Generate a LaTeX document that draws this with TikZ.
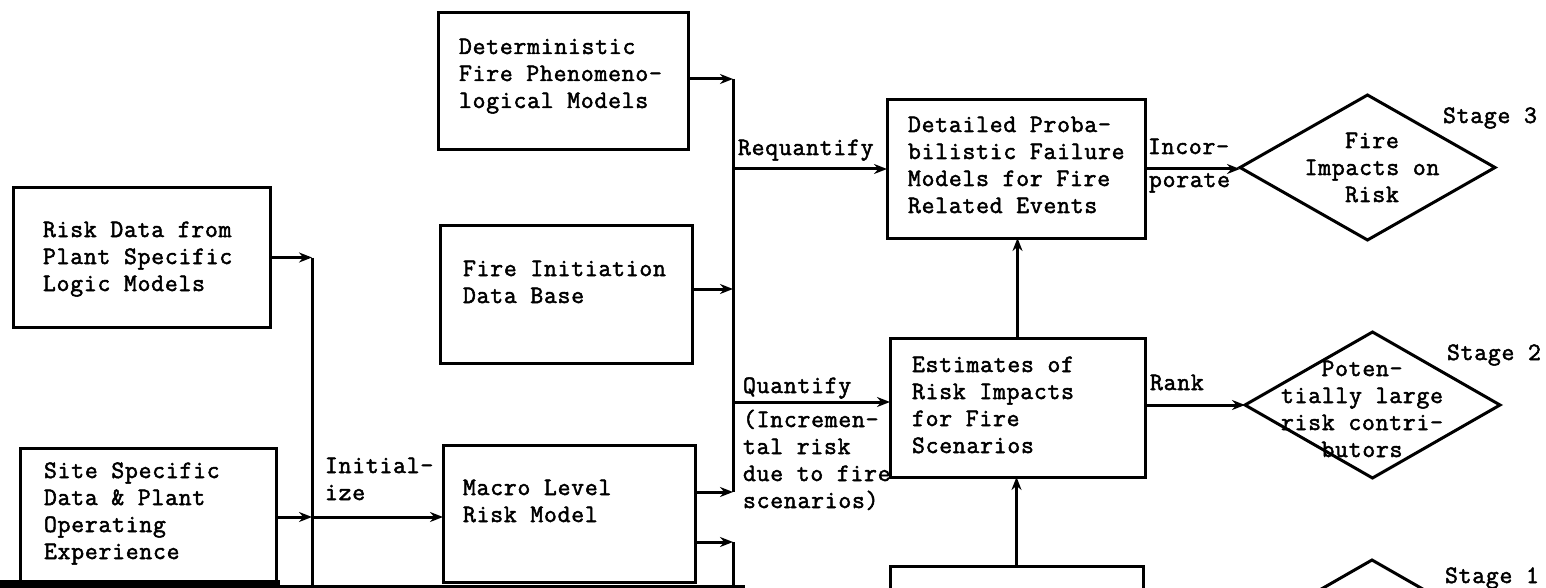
\documentclass[tikz,border=0pt]{standalone}
\usepackage{fontspec}
\setmonofont{Latin Modern Mono}[FakeBold=2,LetterSpace=3]
\usetikzlibrary{arrows.meta,shapes.geometric}
\newcommand\tlines[1]{\vtop{\halign{##\hfil\cr#1\crcr}}}
\newcommand\clines[1]{\vtop{\halign{\hfil##\hfil\cr#1\crcr}}}
\tikzset{
  ln/.style={line width=3pt, black},
  arr/.style={ln, -{Stealth[length=13pt,width=10pt]}},
  boxnode/.style={draw, line width=3pt, inner sep=0pt, outer sep=0pt, rectangle},
  dia/.style={draw, line width=3pt, diamond, inner sep=0pt, outer sep=0pt},
  txt/.style={inner sep=0pt, outer sep=0pt, anchor=base west, font=\ttfamily\fontsize{25}{27}\selectfont},
  ctxt/.style={txt, anchor=base}
}
\begin{document}
\begin{tikzpicture}[x=1pt,y=-1pt]
\useasboundingbox (0,0) rectangle (1546,588);
\clip (0,0) rectangle (1546,588);
% boxes
\node[boxnode, minimum width=257pt, minimum height=139pt] (b1) at (141.5,257.5) {};
\node[boxnode, minimum width=256pt, minimum height=136pt] (b2) at (148,516) {};
\node[boxnode, minimum width=250pt, minimum height=137pt] (det) at (563,81.5) {};
\node[boxnode, minimum width=252pt, minimum height=138pt] (fi) at (566,294) {};
\node[boxnode, minimum width=252pt, minimum height=137pt] (macro) at (569,513.5) {};
\node[boxnode, minimum width=258pt, minimum height=138pt] (dpf) at (1016,169) {};
\node[boxnode, minimum width=255pt, minimum height=139pt] (est) at (1017.5,407.5) {};
\node[boxnode, minimum width=253pt, minimum height=134pt] (bb) at (1016.5,633) {};
% diamonds
\node[dia, minimum width=255pt, minimum height=145pt] (d3) at (1367.5,167.5) {};
\node[dia, minimum width=255pt, minimum height=146pt] (d2) at (1372.5,405) {};
\node[dia, minimum width=255pt, minimum height=146pt] (d1) at (1372,633) {};
% box texts
\node[txt] (b1t) at (43,237) {\tlines{Risk Data from\cr Plant Specific\cr Logic Models}};
\node[txt] (b2t) at (44,478) {\tlines{Site Specific\cr Data \& Plant\cr Operating\cr Experience}};
\node[txt] (dett) at (459,54) {\tlines{Deterministic\cr Fire Phenomeno-\cr logical Models}};
\node[txt] (fit) at (463,276) {\tlines{Fire Initiation\cr Data Base}};
\node[txt] (macrot) at (463,495) {\tlines{Macro Level\cr Risk Model}};
\node[txt] (dpft) at (908,132) {\tlines{Detailed Proba-\cr bilistic Failure\cr Models for Fire\cr Related Events}};
\node[txt] (estt) at (912,372) {\tlines{Estimates of\cr Risk Impacts\cr for Fire\cr Scenarios}};
\node[ctxt] (d3t) at (1372,148) {\clines{Fire\cr Impacts on\cr Risk}};
\node[ctxt] (d2t) at (1362,376) {\clines{Poten-\cr tially large\cr risk contri-\cr butors}};
% stage labels
\node[txt] (s3) at (1443,123) {Stage 3};
\node[txt] (s2) at (1447,360) {Stage 2};
\node[txt] (s1) at (1445,583) {Stage 1};
% edge labels
\node[txt] (lreq) at (738,155) {Requantify};
\node[txt] (linc1) at (1148,154) {Incor-};
\node[txt] (linc2) at (1149,187) {porate};
\node[txt] (lq) at (743,393) {Quantify};
\node[txt] (linc) at (743,427) {\tlines{(Incremen-\cr tal risk\cr due to fire\cr scenarios)}};
\node[txt] (lini) at (325,473) {\tlines{Initial-\cr ize}};
\node[txt] (lrank) at (1150,390) {Rank};
% coordinates
\coordinate (v1) at (312,256);
\coordinate (v1bot) at (312,592);
\coordinate (v2) at (733,0);
\coordinate (v2bot) at (733,592);
% left connectors
\draw[arr] (b1.east) -- (b1.east -| v1);
\draw[ln] (b1.east -| v1) -- (v1bot);
\draw[arr] ([yshift=-1pt]b2.east) -- ([yshift=-1pt]b2.east -| v1);
\draw[arr] ([yshift=-1pt]b2.east -| v1) -- ([yshift=-1pt]b2.east -| macro.west);
% middle connectors
\draw[arr] ([yshift=2.5pt]det.east) -- ([yshift=2.5pt]det.east -| v2);
\draw[arr] ([yshift=5pt]fi.east) -- ([yshift=5pt]fi.east -| v2);
\draw[arr] ([yshift=21.5pt]macro.east) -- ([yshift=21.5pt]macro.east -| v2);
\draw[ln] ([yshift=2.5pt]det.east -| v2) -- ([yshift=21.5pt]macro.east -| v2);
\draw[arr] ([yshift=-28.5pt]macro.east) -- ([yshift=-28.5pt]macro.east -| v2);
\draw[ln] ([yshift=-28.5pt]macro.east -| v2) -- (v2bot);
\draw[arr] (dpf.west -| v2) -- (dpf.west);
\draw[arr] ([yshift=5.5pt]est.west -| v2) -- ([yshift=5.5pt]est.west);
% right connectors
\draw[arr] (dpf.east) -- (dpf.east -| d3.west);
\draw[arr] (d2.west -| est.east) -- (d2.west);
\draw[arr] (est.north) -- (est.north |- dpf.south);
\draw[arr] (bb.north) -- (bb.north |- est.south);
% scan edge at bottom
\fill[black] (0,580) rectangle (280,588);
\fill[black] (280,585) rectangle (745,588);
\end{tikzpicture}
\end{document}
